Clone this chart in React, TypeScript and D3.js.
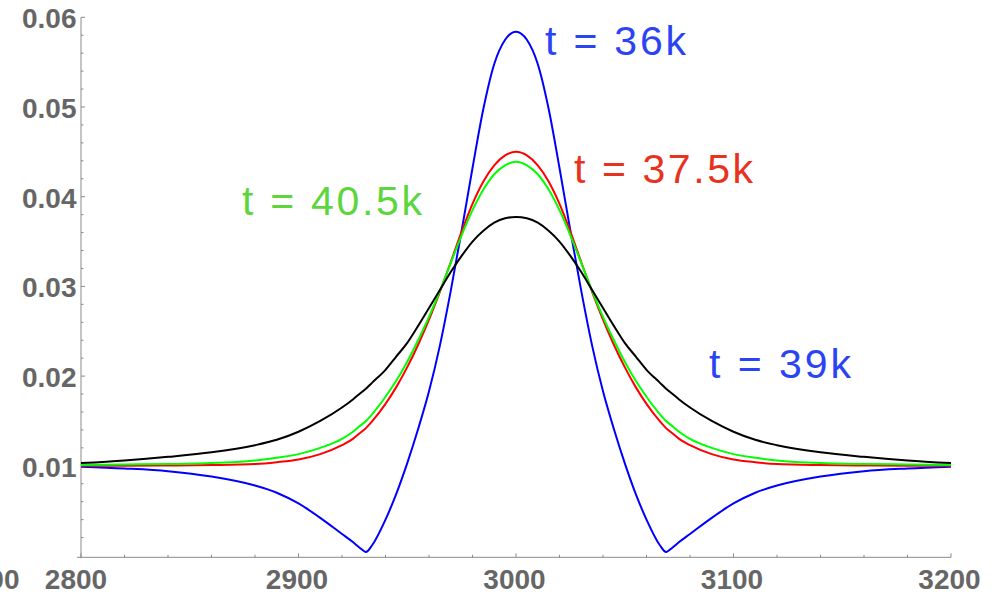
import React from "react";
import * as d3 from "d3";

const xValues = [2800, 2820, 2840, 2860, 2880, 2890, 2900, 2910, 2920, 2925, 2928, 2931, 2934, 2940, 2945, 2950, 2955, 2960, 2965, 2970, 2975, 2980, 2985, 2990, 2995, 3000,
  3005, 3010, 3015, 3020, 3025, 3030, 3035, 3040, 3045, 3050, 3055, 3060, 3066, 3069, 3072, 3075, 3080, 3090, 3100, 3110, 3120, 3140, 3160, 3180, 3200];

const blueSeries = [0.0099, 0.0097, 0.0094, 0.0088, 0.0078, 0.0070, 0.0058, 0.0042, 0.0024, 0.0015, 0.0009, 0.0004, 0.0012, 0.0040, 0.0069, 0.0103, 0.0141, 0.0183, 0.0234, 0.0295, 0.0362, 0.0432, 0.0498, 0.0548, 0.0575, 0.0584,
  0.0575, 0.0548, 0.0498, 0.0432, 0.0362, 0.0295, 0.0234, 0.0183, 0.0141, 0.0103, 0.0069, 0.0040, 0.0012, 0.0004, 0.0009, 0.0015, 0.0024, 0.0042, 0.0058, 0.0070, 0.0078, 0.0088, 0.0094, 0.0097, 0.0099];

const redSeries = [0.0100, 0.0100, 0.01003, 0.01008, 0.0102, 0.0104, 0.0107, 0.0113, 0.0123, 0.0130, 0.0136, 0.0142, 0.0150, 0.0169, 0.0188, 0.0210, 0.0235, 0.0263, 0.0294, 0.0327, 0.0361, 0.0392, 0.0417, 0.0435, 0.0446, 0.0450,
  0.0446, 0.0435, 0.0417, 0.0392, 0.0361, 0.0327, 0.0294, 0.0263, 0.0235, 0.0210, 0.0188, 0.0169, 0.0150, 0.0142, 0.0136, 0.0130, 0.0123, 0.0113, 0.0107, 0.0104, 0.0102, 0.01008, 0.01003, 0.0100, 0.0100];

const greenSeries = [0.0101, 0.01015, 0.0102, 0.0103, 0.0106, 0.0109, 0.0113, 0.0120, 0.0130, 0.0138, 0.0144, 0.0150, 0.0158, 0.0177, 0.0195, 0.0216, 0.0240, 0.0266, 0.0295, 0.0326, 0.0357, 0.0385, 0.0408, 0.0425, 0.0435, 0.0439,
  0.0435, 0.0425, 0.0408, 0.0385, 0.0357, 0.0326, 0.0295, 0.0266, 0.0240, 0.0216, 0.0195, 0.0177, 0.0158, 0.0150, 0.0144, 0.0138, 0.0130, 0.0120, 0.0113, 0.0109, 0.0106, 0.0103, 0.0102, 0.01015, 0.0101];

const blackSeries = [0.0103, 0.0106, 0.0110, 0.0115, 0.0123, 0.0129, 0.0138, 0.0150, 0.0165, 0.0174, 0.0180, 0.0186, 0.0193, 0.0207, 0.0222, 0.0237, 0.0256, 0.0276, 0.0296, 0.0316, 0.0334, 0.0350, 0.0362, 0.0371, 0.0376, 0.03775,
  0.0376, 0.0371, 0.0362, 0.0350, 0.0334, 0.0316, 0.0296, 0.0276, 0.0256, 0.0237, 0.0222, 0.0207, 0.0193, 0.0186, 0.0180, 0.0174, 0.0165, 0.0150, 0.0138, 0.0129, 0.0123, 0.0115, 0.0110, 0.0106, 0.0103];

const xTickLabels = [2800, 2900, 3000, 3100, 3200];
const yTickLabels = [0.01, 0.02, 0.03, 0.04, 0.05, 0.06];

const series = [
  { name: "blue", values: blueSeries, color: "#0000ff" },
  { name: "red", values: redSeries, color: "#ff0000" },
  { name: "green", values: greenSeries, color: "#00ff00" },
  { name: "black", values: blackSeries, color: "#000000" },
];

const labels = [
  { text: "t = 36k", x: 545, y: 54.5, len: 141, color: "#2b44f3" },
  { text: "t = 37.5k", x: 574, y: 182.5, len: 179, color: "#e8321e" },
  { text: "t = 40.5k", x: 242, y: 214.5, len: 180, color: "#5cd63c" },
  { text: "t = 39k", x: 709, y: 378, len: 142, color: "#2b44f3" },
];

export default function App() {
  const W = 993, H = 602;
  const left = 81, right = 951, top = 17.3, bottom = 557.3;
  const x = d3.scaleLinear().domain([2800, 3200]).range([left, right]);
  const y = d3.scaleLinear().domain([-0.0002, 0.06]).range([bottom, top]);
  const line = d3.line<number>()
    .x((_, i) => x(xValues[i]))
    .y((d) => y(d))
    .curve(d3.curveMonotoneX);

  const xMinor = d3.range(2800, 3200.1, 20);
  const yMinor = d3.range(0.002, 0.0601, 0.002);
  const axisColor = "#8a8a8a";
  const labelColor = "#666666";
  const tickFont = "'Liberation Sans', Arial, sans-serif";

  return (
    <svg width={W} height={H} style={{ position: "absolute", left: 0, top: 0, background: "#fff" }}>
      <rect x={0} y={0} width={W} height={H} fill="#fff" />
      <line x1={left - 4} x2={right} y1={bottom} y2={bottom} stroke={axisColor} strokeWidth={1} />
      <line x1={left} x2={left} y1={top} y2={bottom + 1} stroke={axisColor} strokeWidth={1} />
      {xMinor.map((v, i) => {
        const major = Math.abs(((v - 2800) % 100)) < 1e-6;
        return <line key={"xt" + i} x1={x(v)} x2={x(v)} y1={bottom} y2={bottom - (major ? 4 : 2.5)} stroke={axisColor} strokeWidth={1} />;
      })}
      {yMinor.map((v, i) => {
        const major = Math.abs(v * 100 - Math.round(v * 100)) < 1e-6;
        return <line key={"yt" + i} x1={left} x2={left + (major ? 4 : 2.5)} y1={y(v)} y2={y(v)} stroke={axisColor} strokeWidth={1} />;
      })}
      {xTickLabels.map((v, i) => (
        <text key={"xl" + i} x={x(v) - (i === 0 ? 5 : 1.5)} y={588.5} textAnchor="middle" fontFamily={tickFont} fontWeight="bold" fontSize={28} fill={labelColor}>{v}</text>
      ))}
      <text x={19.5} y={588.5} textAnchor="end" fontFamily={tickFont} fontWeight="bold" fontSize={28} fill={labelColor}>0.00</text>
      {yTickLabels.map((v, i) => (
        <text key={"yl" + i} x={76.5} y={y(v) + 11} textAnchor="end" fontFamily={tickFont} fontWeight="bold" fontSize={28} fill={labelColor}>{d3.format(".2f")(v)}</text>
      ))}
      {series.map((s) => (
        <path key={s.name} d={line(s.values) || ""} fill="none" stroke={s.color} strokeWidth={2} strokeLinejoin="round" />
      ))}
      {labels.map((l, i) => (
        <text key={"lab" + i} x={l.x} y={l.y} fontFamily={tickFont} fontSize={41} fill={l.color} textLength={l.len} lengthAdjust="spacing">{l.text}</text>
      ))}
    </svg>
  );
}
